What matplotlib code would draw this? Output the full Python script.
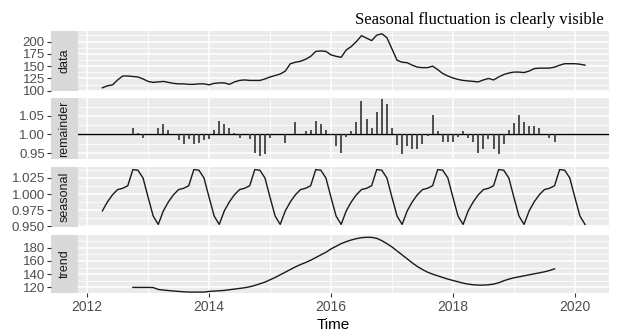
## matplotlib stuff
import matplotlib
matplotlib.use("Agg")
from matplotlib import pyplot as plt
from matplotlib.ticker import MultipleLocator

## some other python libraries
import numpy as np

## monthly series, April 2012 to March 2020
start_year = 2012.25
data = [106, 110, 112, 122, 130, 130, 129, 128, 124, 119, 117, 118,
        119, 117, 115, 114, 114, 113, 113, 114, 114, 112, 115, 116,
        116, 113, 118, 121, 122, 121, 121, 121, 124, 128, 131, 134,
        140, 155, 158, 160, 164, 170, 180, 181, 180, 173, 170, 168,
        183, 190, 200, 212, 207, 202, 213, 216, 208, 185, 162, 158,
        157, 152, 148, 147, 147, 150, 143, 135, 130, 126, 123, 121,
        120, 119, 118, 122, 125, 122, 128, 133, 136, 138, 138, 137,
        140, 145, 146, 146, 146, 148, 152, 155, 155, 155, 154, 152]

## seasonal factor, Apr .. Mar (same every year)
seasonal_pattern = [0.974, 0.988, 0.999, 1.007, 1.009, 1.013,
                    1.038, 1.037, 1.025, 0.995, 0.966, 0.953]

## trend and remainder only exist from Oct 2012 to Sep 2019
trend_offset = 6
trend = [120.0, 120.0, 120.0, 120.0, 119.8, 117.0, 116.0, 115.3, 114.6, 114.0,
         113.4, 113.0, 113.0, 113.0, 113.0, 114.0, 114.5, 115.0, 115.5, 116.5,
         117.5, 118.5, 119.5, 121.0, 123.0, 125.5, 128.0, 131.5, 135.0, 139.0,
         143.0, 147.0, 151.0, 154.5, 157.5, 161.0, 165.0, 169.0, 173.0, 178.0,
         182.0, 186.0, 189.0, 191.5, 193.5, 195.0, 195.5, 195.5, 194.0, 190.5,
         186.0, 181.0, 175.0, 169.0, 163.0, 157.0, 151.5, 147.0, 143.0, 140.0,
         137.5, 135.0, 132.5, 130.5, 128.5, 126.5, 125.0, 124.0, 123.5, 123.5,
         124.0, 125.0, 127.0, 130.0, 132.5, 134.5, 136.0, 137.5, 139.0, 140.5,
         142.0, 143.5, 145.5, 148.0]
remainder = [1.018, 1.004, 0.990, 1.000, 1.000, 1.018, 1.027, 1.011, 1.000, 0.985,
             0.974, 0.987, 0.974, 0.977, 0.984, 0.989, 1.012, 1.037, 1.027, 1.018,
             1.003, 0.990, 1.000, 0.987, 0.951, 0.942, 0.947, 0.990, 1.000, 1.000,
             0.977, 1.000, 1.033, 1.000, 1.009, 1.013, 1.037, 1.027, 1.011, 0.999,
             0.970, 0.951, 0.994, 1.008, 1.033, 1.090, 1.042, 1.018, 1.061, 1.094,
             1.082, 1.018, 0.971, 0.947, 0.970, 0.961, 0.961, 0.974, 0.997, 1.051,
             1.009, 0.980, 0.979, 0.979, 0.994, 1.009, 0.990, 0.979, 0.951, 0.961,
             0.987, 0.960, 0.947, 0.975, 1.012, 1.030, 1.051, 1.034, 1.023, 1.023,
             1.018, 1.000, 0.990, 0.980]

panel_names = ["data", "remainder", "seasonal", "trend"]
x_ticks = [2012, 2014, 2016, 2018, 2020]
title = "Seasonal fluctuation is clearly visible"

W, H = 619, 333

def px_box(left, top, right, bottom):
    ''' pixel box -> figure fraction rect '''
    return [left / W, 1 - bottom / H, (right - left) / W, (bottom - top) / H]

def make_panel(fig, top, bottom, name, ylim, major, minor):
    ''' one facet: gray panel plus strip on the left carrying the y axis '''
    ax = fig.add_axes(px_box(78, top, 609, bottom))
    strip = fig.add_axes(px_box(51, top, 78, bottom), sharey=ax)

    ax.set_facecolor("#EBEBEB")
    ax.set_xlim(2011.85, 2020.56)
    ax.set_ylim(*ylim)
    ax.xaxis.set_major_locator(MultipleLocator(2))
    ax.xaxis.set_minor_locator(MultipleLocator(1))
    ax.yaxis.set_major_locator(MultipleLocator(major))
    ax.yaxis.set_minor_locator(MultipleLocator(minor))
    ax.grid(which="major", color="white", lw=1.1)
    ax.grid(which="minor", color="white", lw=0.55)
    ax.set_axisbelow(True)
    for s in ax.spines.values():
        s.set_visible(False)
    ax.tick_params(which="both", left=False, labelleft=False,
                   bottom=False, labelbottom=False)

    strip.set_facecolor("#D9D9D9")
    for s in strip.spines.values():
        s.set_visible(False)
    strip.set_xticks([])
    strip.tick_params(axis="y", which="major", length=3, width=0.8,
                      color="#333333", labelcolor="#4D4D4D", labelsize=9.5, pad=1.5)
    strip.tick_params(axis="y", which="minor", length=0)
    strip.text(0.5, 0.5, name, rotation=90, ha="center", va="center",
               transform=strip.transAxes, color="#1A1A1A", fontsize=9)
    return ax


plt.rcParams["font.family"] = ["Liberation Sans", "DejaVu Sans"]
fig = plt.figure(figsize=(W / 100, H / 100), dpi=100)

t = start_year + np.arange(len(data)) / 12
seasonal = np.tile(seasonal_pattern, len(data) // 12)
t_trend = t[trend_offset:trend_offset + len(trend)]

ax = make_panel(fig, 31, 91, "data", (99.5, 221.5), 25, 12.5)
ax.plot(t, data, color="#1A1A1A", lw=1.0)

ax = make_panel(fig, 98, 159, "remainder", (0.934, 1.098), 0.05, 0.025)
ax.axhline(1.0, color="black", lw=1.0)
ax.vlines(t_trend, 1.0, remainder, color="#333333", lw=1.2)

ax = make_panel(fig, 167, 227, "seasonal", (0.949, 1.042), 0.025, 0.0125)
ax.plot(t, seasonal, color="#1A1A1A", lw=1.0)

ax = make_panel(fig, 235, 293, "trend", (111.6, 199), 20, 10)
ax.plot(t_trend, trend, color="#1A1A1A", lw=1.0)
ax.set_xticks(x_ticks)
ax.tick_params(axis="x", which="major", bottom=True, labelbottom=True, length=3,
               width=0.8, color="#333333", labelcolor="#4D4D4D", labelsize=10, pad=2)

fig.text(333 / W, 1 - 325 / H, "Time", ha="center", va="center", fontsize=11)
fig.text(604 / W, 1 - 20 / H, title, ha="right", va="center", fontsize=12,
         family=["Liberation Serif", "DejaVu Serif"])

fig.savefig("out.png", dpi=100)
